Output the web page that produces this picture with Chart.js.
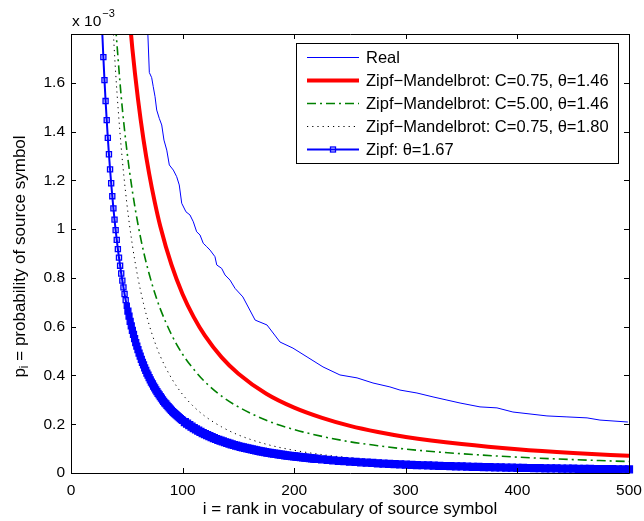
<!DOCTYPE html>
<html>
<head>
<meta charset="utf-8">
<script src="https://cdn.jsdelivr.net/npm/chart.js@4.4.0/dist/chart.umd.min.js"></script>
<style>
  body { margin: 0; background: #fff; }
  #wrap { width: 644px; height: 521px; }
</style>
</head>
<body>
<div id="wrap"><canvas id="zipfChart" width="644" height="521"></canvas></div>
<script>
  // rank i (x) and probability p_i in units of 1e-3 (y)

  const realRank = [68.7, 70.2, 72.3, 73.7, 75.3, 76.8, 79.1, 81.3, 83.3, 85.8, 88.1, 91.7, 94.7, 97.0, 99.2,
    103.0, 106.6, 109.6, 112.6, 115.6, 118.5, 121.6, 124.6, 129.0, 130.6, 135.0, 138.0, 142.5, 147.0, 154,
    165, 175.6, 187.3, 198.9, 211.5, 225.8, 241, 256.3, 270.6, 285.8, 294.8, 310, 324.4, 336.9, 348.6,
    366.5, 381.7, 396, 411.3, 426.5, 444.4, 462.4, 474, 499];
  const realProb = [1.82, 1.642, 1.621, 1.584, 1.543, 1.488, 1.454, 1.427, 1.365, 1.324, 1.263, 1.242, 1.215, 1.181, 1.106,
    1.071, 1.058, 1.030, 0.989, 0.976, 0.942, 0.928, 0.914, 0.887, 0.853, 0.839, 0.812, 0.791, 0.757, 0.722,
    0.627, 0.607, 0.537, 0.512, 0.476, 0.435, 0.402, 0.390, 0.369, 0.353, 0.340, 0.328, 0.312, 0.299, 0.287,
    0.271, 0.267, 0.250, 0.242, 0.234, 0.230, 0.226, 0.217, 0.209];

  const zm1Rank = [50, 55, 60, 65, 70, 75, 80, 90, 100, 110, 120, 135, 150, 175, 200, 225, 250, 275, 300, 350, 400, 450, 500];
  const zm1Prob = [1.993, 1.739, 1.534, 1.366, 1.228, 1.112, 1.012, 0.854, 0.733, 0.639, 0.563, 0.474, 0.407, 0.325,
    0.268, 0.226, 0.193, 0.168, 0.148, 0.119, 0.0975, 0.0821, 0.0705];

  const zm2Rank = [40, 45, 50, 55, 60, 65, 70, 75, 80, 90, 100, 110, 120, 135, 150, 175, 200, 225, 250, 275, 300, 350, 400, 450, 500];
  const zm2Prob = [1.827, 1.543, 1.325, 1.156, 1.020, 0.908, 0.817, 0.739, 0.673, 0.568, 0.487, 0.425, 0.374, 0.315,
    0.271, 0.216, 0.178, 0.150, 0.128, 0.112, 0.098, 0.079, 0.065, 0.055, 0.047];

  const zm3Rank = [37, 40, 45, 50, 55, 60, 65, 70, 75, 80, 90, 100, 110, 120, 135, 150, 175, 200, 225, 250, 275, 300, 350, 400, 450, 500];
  const zm3Prob = [1.884, 1.642, 1.334, 1.107, 0.934, 0.800, 0.694, 0.608, 0.538, 0.479, 0.389, 0.322, 0.272, 0.233,
    0.189, 0.156, 0.118, 0.093, 0.0753, 0.0624, 0.0525, 0.0449, 0.0341, 0.0268, 0.0217, 0.0180];

  const zipfRank = [
    28, 29, 30, 31, 32, 33, 34, 35, 36, 37, 38, 39, 40, 41, 42, 43, 44, 45, 46, 47, 48, 49, 50,
    51, 52, 53, 54, 55, 56, 57, 58, 59, 60, 61, 62, 63, 64, 65, 66, 67, 68, 69, 70, 71, 72, 73, 74, 75,
    76, 77, 78, 79, 80, 81, 82, 83, 84, 85, 86, 87, 88, 89, 90, 91, 92, 93, 94, 95, 96, 97, 98, 99, 100,
    102, 104, 106, 108, 110, 112, 114, 116, 118, 120, 122, 124, 126, 128, 130, 132, 134, 136, 138, 140,
    142, 144, 146, 148, 150, 152, 154, 156, 158, 160, 162, 164, 166, 168, 170, 172, 174, 176, 178, 180,
    182, 184, 186, 188, 190, 192, 194, 196, 198, 200, 202, 204, 206, 208, 210, 212, 214, 216, 218, 220,
    225, 230, 235, 240, 245, 250, 255, 260, 265, 270, 275, 280, 285, 290, 295, 300,
    305, 310, 315, 320, 325, 330, 335, 340, 345, 350, 355, 360, 365, 370, 375, 380, 385, 390, 395, 400,
    405, 410, 415, 420, 425, 430, 435, 440, 445, 450, 455, 460, 465, 470, 475, 480, 485, 490, 495, 500];
  const zipfProb = [
    1.808, 1.705, 1.611, 1.525, 1.447, 1.374, 1.307, 1.245, 1.188, 1.135, 1.085, 1.039, 0.996, 0.956, 0.918,
    0.883, 0.850, 0.818, 0.789, 0.761, 0.734, 0.709, 0.686,
    0.664, 0.643, 0.622, 0.603, 0.585, 0.568, 0.551, 0.535, 0.520, 0.506, 0.492, 0.479, 0.466, 0.454, 0.443,
    0.431, 0.421, 0.410, 0.401, 0.391, 0.382, 0.373, 0.365, 0.356, 0.349,
    0.341, 0.334, 0.326, 0.320, 0.313, 0.307, 0.300, 0.294, 0.288, 0.283, 0.277, 0.272, 0.267, 0.262, 0.257,
    0.252, 0.248, 0.243, 0.239, 0.235, 0.231, 0.227, 0.223, 0.219, 0.216,
    0.2090, 0.2023, 0.1960, 0.1899, 0.1842, 0.1788, 0.1735, 0.1686, 0.1638, 0.1593,
    0.1550, 0.1508, 0.1468, 0.1430, 0.1394, 0.1359, 0.1325, 0.1293, 0.1261, 0.1231,
    0.1203, 0.1175, 0.1148, 0.1122, 0.1097, 0.1073, 0.1050, 0.1028, 0.1006, 0.0985,
    0.0965, 0.0946, 0.0927, 0.0908, 0.0890, 0.0873, 0.0857, 0.0840, 0.0825, 0.0809,
    0.0795, 0.0780, 0.0766, 0.0753, 0.0739, 0.0727, 0.0714, 0.0702, 0.0690, 0.0679,
    0.0668, 0.0657, 0.0646, 0.0636, 0.0626, 0.0616, 0.0606, 0.0597, 0.0588, 0.0579,
    0.0558, 0.0537, 0.0518, 0.0501, 0.0484, 0.0468, 0.0453, 0.0438, 0.0424,
    0.0411, 0.0399, 0.0387, 0.0376, 0.0365, 0.0355, 0.0345,
    0.0336, 0.0327, 0.0318, 0.0310, 0.0302, 0.0294, 0.0287, 0.0280, 0.0273, 0.0267, 0.0260, 0.0254, 0.0249,
    0.0243, 0.0238, 0.0232, 0.0227, 0.0222, 0.0218, 0.0213,
    0.0209, 0.0205, 0.0201, 0.0197, 0.0193, 0.0189, 0.0185, 0.0182, 0.0179, 0.0175, 0.0172, 0.0169, 0.0166,
    0.0163, 0.0160, 0.0157, 0.0155, 0.0152, 0.0149, 0.0147];

  const xTicks = [0, 100, 200, 300, 400, 500];
  const yTicks = [0, 0.2, 0.4, 0.6, 0.8, 1, 1.2, 1.4, 1.6];

  const seriesLabels = [
    "Real",
    "Zipf\u2212Mandelbrot: C=0.75, \u03b8=1.46",
    "Zipf\u2212Mandelbrot: C=5.00, \u03b8=1.46",
    "Zipf\u2212Mandelbrot: C=0.75, \u03b8=1.80",
    "Zipf: \u03b8=1.67"
  ];

  const FONT = "'Liberation Sans', Arial, Helvetica, sans-serif";

  function pts(xs, ys) {
    return xs.map((v, k) => ({ x: v, y: ys[k] }));
  }

  // axes box, inward ticks, titles and legend drawn MATLAB-style
  const matlabFrame = {
    id: "matlabFrame",
    afterDraw(chart) {
      const { ctx, chartArea: a } = chart;
      const xs = chart.scales.x, ys = chart.scales.y;
      ctx.save();
      ctx.strokeStyle = "#000";
      ctx.lineWidth = 1;
      ctx.setLineDash([]);
      ctx.beginPath();
      ctx.rect(a.left + 0.5, a.top + 0.5, a.right - a.left, a.bottom - a.top);
      xTicks.forEach(v => {
        const px = Math.round(xs.getPixelForValue(v)) + 0.5;
        ctx.moveTo(px, a.bottom); ctx.lineTo(px, a.bottom - 5);
        ctx.moveTo(px, a.top); ctx.lineTo(px, a.top + 5);
      });
      yTicks.forEach(v => {
        const py = Math.round(ys.getPixelForValue(v)) + 0.5;
        ctx.moveTo(a.left, py); ctx.lineTo(a.left + 5, py);
        ctx.moveTo(a.right, py); ctx.lineTo(a.right - 5, py);
      });
      ctx.stroke();

      ctx.fillStyle = "#000";
      // exponent label
      ctx.textBaseline = "alphabetic";
      ctx.textAlign = "left";
      ctx.font = "15.5px " + FONT;
      ctx.fillText("x 10", a.left + 1, 26);
      const w10 = ctx.measureText("x 10").width;
      ctx.font = "11px " + FONT;
      ctx.fillText("\u22123", a.left + 2 + w10, 17);

      // x title
      ctx.font = "17px " + FONT;
      ctx.textAlign = "center";
      ctx.textBaseline = "middle";
      ctx.fillText("i = rank in vocabulary of source symbol", (a.left + a.right) / 2, 509);

      // y title with subscript
      const rest = " = probability of source symbol";
      ctx.font = "17px " + FONT;
      const wp = ctx.measureText("p").width;
      const wr = ctx.measureText(rest).width;
      ctx.font = "12px " + FONT;
      const wi = ctx.measureText("i").width;
      const total = wp + wi + wr;
      ctx.translate(20, (a.top + a.bottom) / 2 + 3);
      ctx.rotate(-Math.PI / 2);
      ctx.textAlign = "left";
      ctx.textBaseline = "middle";
      let cx = -total / 2;
      ctx.font = "17px " + FONT;
      ctx.fillText("p", cx, 0);
      cx += wp;
      ctx.font = "12px " + FONT;
      ctx.fillText("i", cx, 5);
      cx += wi;
      ctx.font = "17px " + FONT;
      ctx.fillText(rest, cx, 0);
      ctx.restore();

      // legend
      ctx.save();
      const lx = 296, ly = 43, lw = 322, lh = 120;
      ctx.fillStyle = "#fff";
      ctx.fillRect(lx, ly, lw, lh);
      ctx.strokeStyle = "#000";
      ctx.lineWidth = 1;
      ctx.strokeRect(lx + 0.5, ly + 0.5, lw, lh);
      ctx.font = "16.5px " + FONT;
      ctx.textAlign = "left";
      ctx.textBaseline = "middle";
      chart.data.datasets.forEach((ds, k) => {
        const cy = Math.round(57 + k * 23.1) + 0.5;
        ctx.save();
        ctx.strokeStyle = ds.borderColor;
        ctx.lineWidth = ds.borderWidth;
        ctx.setLineDash(ds.borderDash || []);
        ctx.beginPath();
        ctx.moveTo(307, cy);
        ctx.lineTo(359, cy);
        ctx.stroke();
        if (ds.pointStyle === "rect") {
          ctx.setLineDash([]);
          ctx.lineWidth = ds.pointBorderWidth;
          ctx.strokeRect(330.5, cy - 2.5, 5, 5);
        }
        ctx.restore();
        ctx.fillStyle = "#000";
        ctx.fillText(ds.label, 366, cy + 1);
      });
      ctx.restore();
    }
  };

  function tickText(v) {
    if (v > 1.7) return "";
    return String(Math.round(v * 10) / 10);
  }

  function zipfRadius(ctx) {
    const p = ctx.raw;
    if (!p || p.y > 1.8) return 0;
    if (p.x > 100) return 4.9;
    if (p.x > 50) return 4.2;
    return 3.6;
  }

  new Chart(document.getElementById("zipfChart"), {
    type: "line",
    data: {
      datasets: [
        {
          label: seriesLabels[0],
          data: pts(realRank, realProb),
          borderColor: "#0000ff",
          borderWidth: 1,
          pointRadius: 0,
          tension: 0,
          clip: 0,
          order: 4
        },
        {
          label: seriesLabels[1],
          data: pts(zm1Rank, zm1Prob),
          borderColor: "#ff0000",
          borderWidth: 4,
          pointRadius: 0,
          cubicInterpolationMode: "monotone",
          clip: 0,
          order: 3
        },
        {
          label: seriesLabels[2],
          data: pts(zm2Rank, zm2Prob),
          borderColor: "#008000",
          borderWidth: 1.6,
          borderDash: [9, 4, 2, 4],
          pointRadius: 0,
          cubicInterpolationMode: "monotone",
          clip: 0,
          order: 2
        },
        {
          label: seriesLabels[3],
          data: pts(zm3Rank, zm3Prob),
          borderColor: "#000000",
          borderWidth: 1,
          borderDash: [1.2, 4],
          pointRadius: 0,
          cubicInterpolationMode: "monotone",
          clip: 0,
          order: 1
        },
        {
          label: seriesLabels[4],
          data: pts(zipfRank, zipfProb),
          borderColor: "#0000ff",
          borderWidth: 2,
          pointStyle: "rect",
          pointRadius: zipfRadius,
          pointBorderColor: "#0000ff",
          pointBackgroundColor: ctx => (ctx.raw && ctx.raw.y < 0.7 ? "#0000ff" : "rgba(0,0,255,0.12)"),
          pointBorderWidth: 1.3,
          tension: 0,
          clip: { left: 0, top: 0, right: 8, bottom: 8 },
          order: 0
        }
      ]
    },
    options: {
      responsive: false,
      animation: false,
      events: [],
      layout: { padding: { left: 0, right: 15, top: 34, bottom: 0 } },
      scales: {
        x: {
          type: "linear",
          min: 0,
          max: 500,
          grid: { display: false, drawTicks: false },
          border: { display: false },
          ticks: {
            stepSize: 100,
            padding: 8,
            color: "#000",
            maxRotation: 0,
            font: { family: FONT, size: 15.5 }
          },
          afterFit: scale => {
            scale.height = 48;
            scale.paddingLeft = 0;
            scale.paddingRight = 0;
          }
        },
        y: {
          type: "linear",
          min: 0,
          max: 1.8,
          grid: { display: false, drawTicks: false },
          border: { display: false },
          ticks: {
            stepSize: 0.2,
            padding: 6,
            color: "#000",
            font: { family: FONT, size: 15.5 },
            callback: tickText
          },
          afterFit: scale => {
            scale.width = 71;
            scale.paddingTop = 0;
            scale.paddingBottom = 0;
          }
        }
      },
      plugins: {
        legend: { display: false },
        tooltip: { enabled: false }
      }
    },
    plugins: [matlabFrame]
  });
</script>
</body>
</html>
